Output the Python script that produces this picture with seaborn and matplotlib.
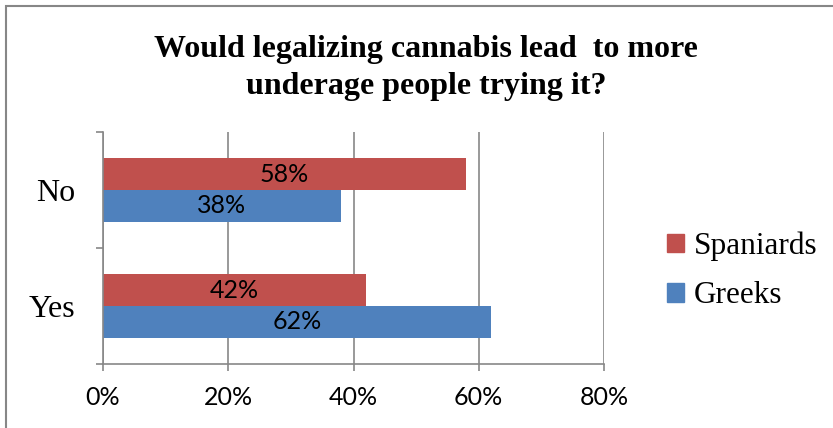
import matplotlib.pyplot as plt
import pandas as pd
import seaborn as sns
from matplotlib.patches import Rectangle

# values
answers = ['No', 'Yes']
groups = ['Spaniards', 'Greeks']
spaniards = [58, 42]
greeks = [38, 62]
x_ticks = [0, 20, 40, 60, 80]
colors = ['#C0504D', '#4F81BD']

title = 'Would legalizing cannabis lead  to more\nunderage people trying it?'

df = pd.DataFrame({
    'answer': answers * 2,
    'group': [groups[0]] * len(answers) + [groups[1]] * len(answers),
    'pct': spaniards + greeks,
})

sns.set_style('white')
plt.rcParams['text.color'] = 'black'
plt.rcParams['xtick.color'] = 'black'
plt.rcParams['ytick.color'] = 'black'
serif = ['Liberation Serif', 'DejaVu Serif']
sans = ['Lato', 'DejaVu Sans']
gray = '#878787'

fig = plt.figure(figsize=(8.33, 4.28), dpi=100)
ax = fig.add_axes([103 / 833, 1 - 364 / 428, 501 / 833, 232 / 428])

sns.barplot(data=df, y='answer', x='pct', hue='group', order=answers,
            hue_order=groups, palette=colors, orient='h', width=0.55,
            saturation=1, linewidth=0, legend=False, ax=ax)

for cont in ax.containers:
    ax.bar_label(cont, fmt='%g%%', label_type='center',
                 fontsize=18, family=sans, color='black')

ax.set_xlim(0, 80)
ax.set_ylim(1.5, -0.5)
ax.set_xticks(x_ticks)
ax.set_xticklabels([f'{t}%' for t in x_ticks], family=sans, fontsize=18)
ax.tick_params(axis='x', direction='out', length=5, width=1.2, color=gray,
               labelcolor='black', bottom=True, pad=11)

ax.set_yticks(range(len(answers)))
ax.set_yticklabels(answers, family=serif, fontsize=23)
ax.tick_params(axis='y', which='major', length=0, pad=20, labelcolor='black')
ax.set_yticks([-0.5, 0.5, 1.5], minor=True)
ax.tick_params(axis='y', which='minor', direction='out', length=5,
               width=1.2, color=gray, left=True)

ax.xaxis.grid(True, color=gray, linewidth=1.2)
ax.yaxis.grid(False)
ax.set_axisbelow(True)
for side in ['top', 'right']:
    ax.spines[side].set_visible(False)
for side in ['left', 'bottom']:
    ax.spines[side].set_color(gray)
    ax.spines[side].set_linewidth(1.2)
ax.set_xlabel('')
ax.set_ylabel('')

handles = [Rectangle((0, 0), 1, 1, color=c) for c in colors]
fig.legend(handles, groups, loc='center left', bbox_to_anchor=(667 / 833, 1 - 271 / 428),
           frameon=False, prop={'family': serif, 'size': 22.5},
           handlelength=0.55, handleheight=0.55, handletextpad=0.3,
           labelspacing=0.65, borderaxespad=0, borderpad=0)

fig.text(426 / 833, 1 - 68 / 428, title, ha='center', va='center',
         family=serif, fontsize=23, fontweight='bold', linespacing=1.32,
         color='black')

# chart-area border (right and bottom edges fall outside the image)
fig.patches.append(Rectangle((5.5 / 833, -0.1), 1.0, 1.1 - 6.5 / 428,
                             transform=fig.transFigure, fill=False,
                             edgecolor=gray, linewidth=1.5))

fig.savefig('out.png', dpi=100)
